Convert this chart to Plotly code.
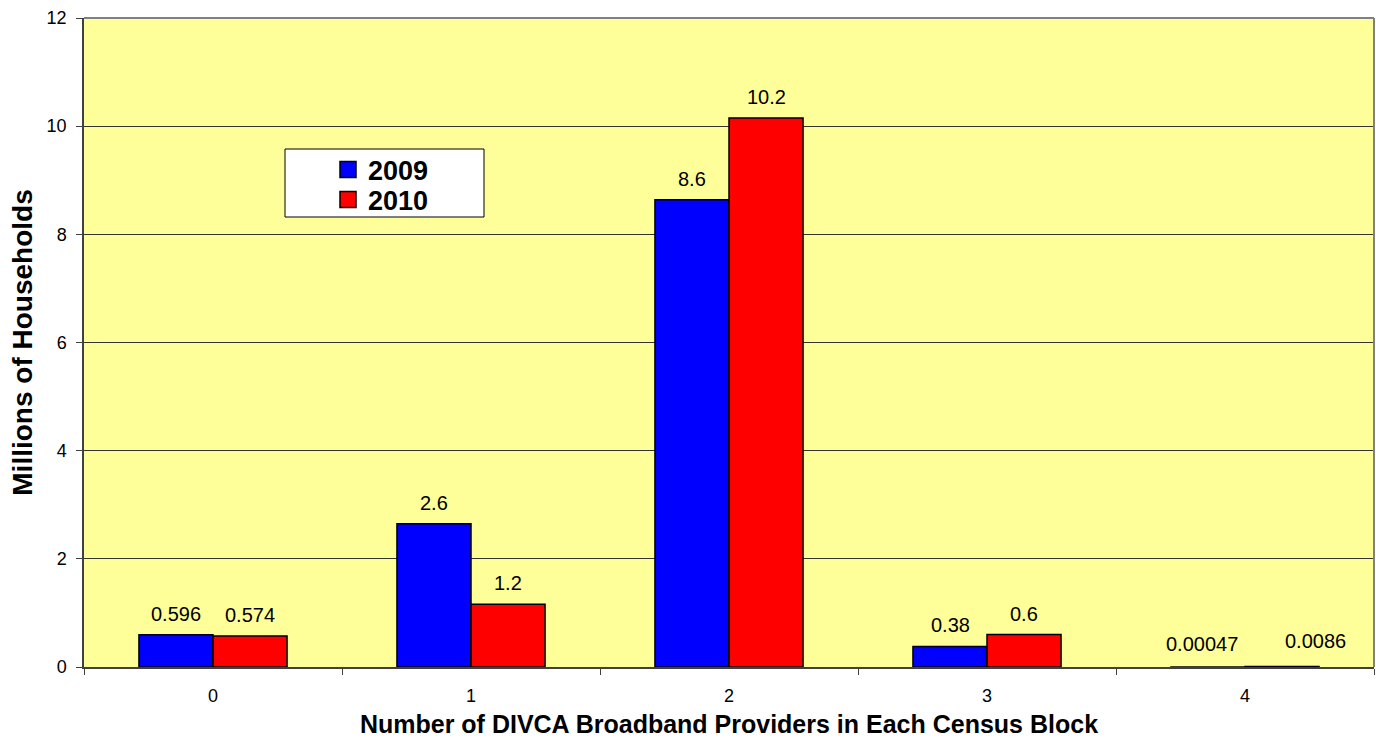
import plotly.graph_objects as go

categories = ["0", "1", "2", "3", "4"]
series_names = ["2009", "2010"]
values_2009 = [0.596, 2.65, 8.64, 0.38, 0.00047]
values_2010 = [0.574, 1.16, 10.15, 0.6, 0.0086]
labels_2009 = ["0.596", "2.6", "8.6", "0.38", "0.00047"]
labels_2010 = ["0.574", "1.2", "10.2", "0.6", "0.0086"]
y_ticks = [0, 2, 4, 6, 8, 10, 12]

colors = ["#0000FF", "#FF0000"]
FONT = "Liberation Sans, Arial, sans-serif"

# plot-area geometry in page pixels
L, R, T, B = 84, 1374, 18, 667
W, H = R - L, B - T

def px_x(p):
    return (p - L) / W

def px_y(p):
    return (B - p) / H

fig = go.Figure()
legend_ids = ["legend", "legend2"]
for name, vals, col, lid in zip(series_names, [values_2009, values_2010], colors, legend_ids):
    fig.add_trace(go.Bar(
        x=categories, y=vals, name=name, showlegend=False,
        marker=dict(color=col, line=dict(color="black", width=1.5)),
        hoverinfo="x+y",
    ))
    fig.add_trace(go.Scatter(
        x=[None], y=[None], mode="markers", name=name, legend=lid,
        marker=dict(symbol="square", size=18, color=col,
                    line=dict(color="black", width=1.5)),
    ))

# label placement nudges (pixels) for crowded labels, keyed by (series index, category)
label_nudge = {(0, "4"): (-6, 2), (1, "4"): (33, 5)}

bar_half = 37
for si, (vals, labs, sign) in enumerate([(values_2009, labels_2009, -1),
                                         (values_2010, labels_2010, 1)]):
    for c, v, t in zip(categories, vals, labs):
        dx, dy = label_nudge.get((si, c), (0, 0))
        fig.add_annotation(
            x=c, y=v, xref="x", yref="y", text=t, showarrow=False,
            xshift=sign * bar_half + dx, yshift=8 + dy, yanchor="bottom",
            font=dict(family=FONT, size=20, color="black"),
        )

fig.add_shape(type="rect", xref="paper", yref="paper",
              x0=px_x(285), x1=px_x(484), y0=px_y(217), y1=px_y(149),
              fillcolor="white", line=dict(color="black", width=1), layer="above")

leg_font = dict(family=FONT, size=27, color="black", weight="bold")
legend_common = dict(xanchor="left", yanchor="middle", bgcolor="rgba(0,0,0,0)",
                     borderwidth=0, font=leg_font, itemsizing="trace")

fig.update_layout(
    width=1376, height=746,
    margin=dict(l=L, r=1376 - R, t=T, b=746 - B, autoexpand=False),
    paper_bgcolor="white",
    plot_bgcolor="#FFFF99",
    barmode="group", bargap=0.426, bargroupgap=0,
    font=dict(family=FONT, size=19, color="black"),
    legend=dict(x=px_x(328), y=px_y(170), **legend_common),
    legend2=dict(x=px_x(328), y=px_y(200), **legend_common),
    xaxis=dict(
        type="category", tickson="boundaries", ticks="outside", ticklen=6,
        tickcolor="#404040", showline=True, linecolor="#404040", linewidth=1.5,
        showgrid=False, ticklabelstandoff=12, automargin=False,
        tickfont=dict(size=18),
        title=dict(text="<b>Number of DIVCA Broadband Providers in Each Census Block</b>",
                   font=dict(family=FONT, size=25, color="black"), standoff=10),
    ),
    yaxis=dict(
        range=[0, 12], tickvals=y_ticks, ticks="outside", ticklen=6,
        tickcolor="#404040", showline=True, linecolor="#404040", linewidth=1.5,
        showgrid=True, gridcolor="#333333", gridwidth=1, zeroline=False,
        ticklabelstandoff=6, automargin=False,
        tickfont=dict(size=18),
        title=dict(text="<b>Millions of Households</b>",
                   font=dict(family=FONT, size=28, color="black"), standoff=6),
    ),
)
fig.add_shape(type="line", xref="paper", yref="paper", x0=0, x1=1, y0=1, y1=1,
              line=dict(color="#808080", width=2))
fig.add_shape(type="line", xref="paper", yref="paper", x0=1, x1=1, y0=0, y1=1,
              line=dict(color="#808080", width=2))

fig.write_html("out.html", config={"displayModeBar": False},
               post_script="document.body.style.margin='0';document.body.style.overflow='hidden';")
